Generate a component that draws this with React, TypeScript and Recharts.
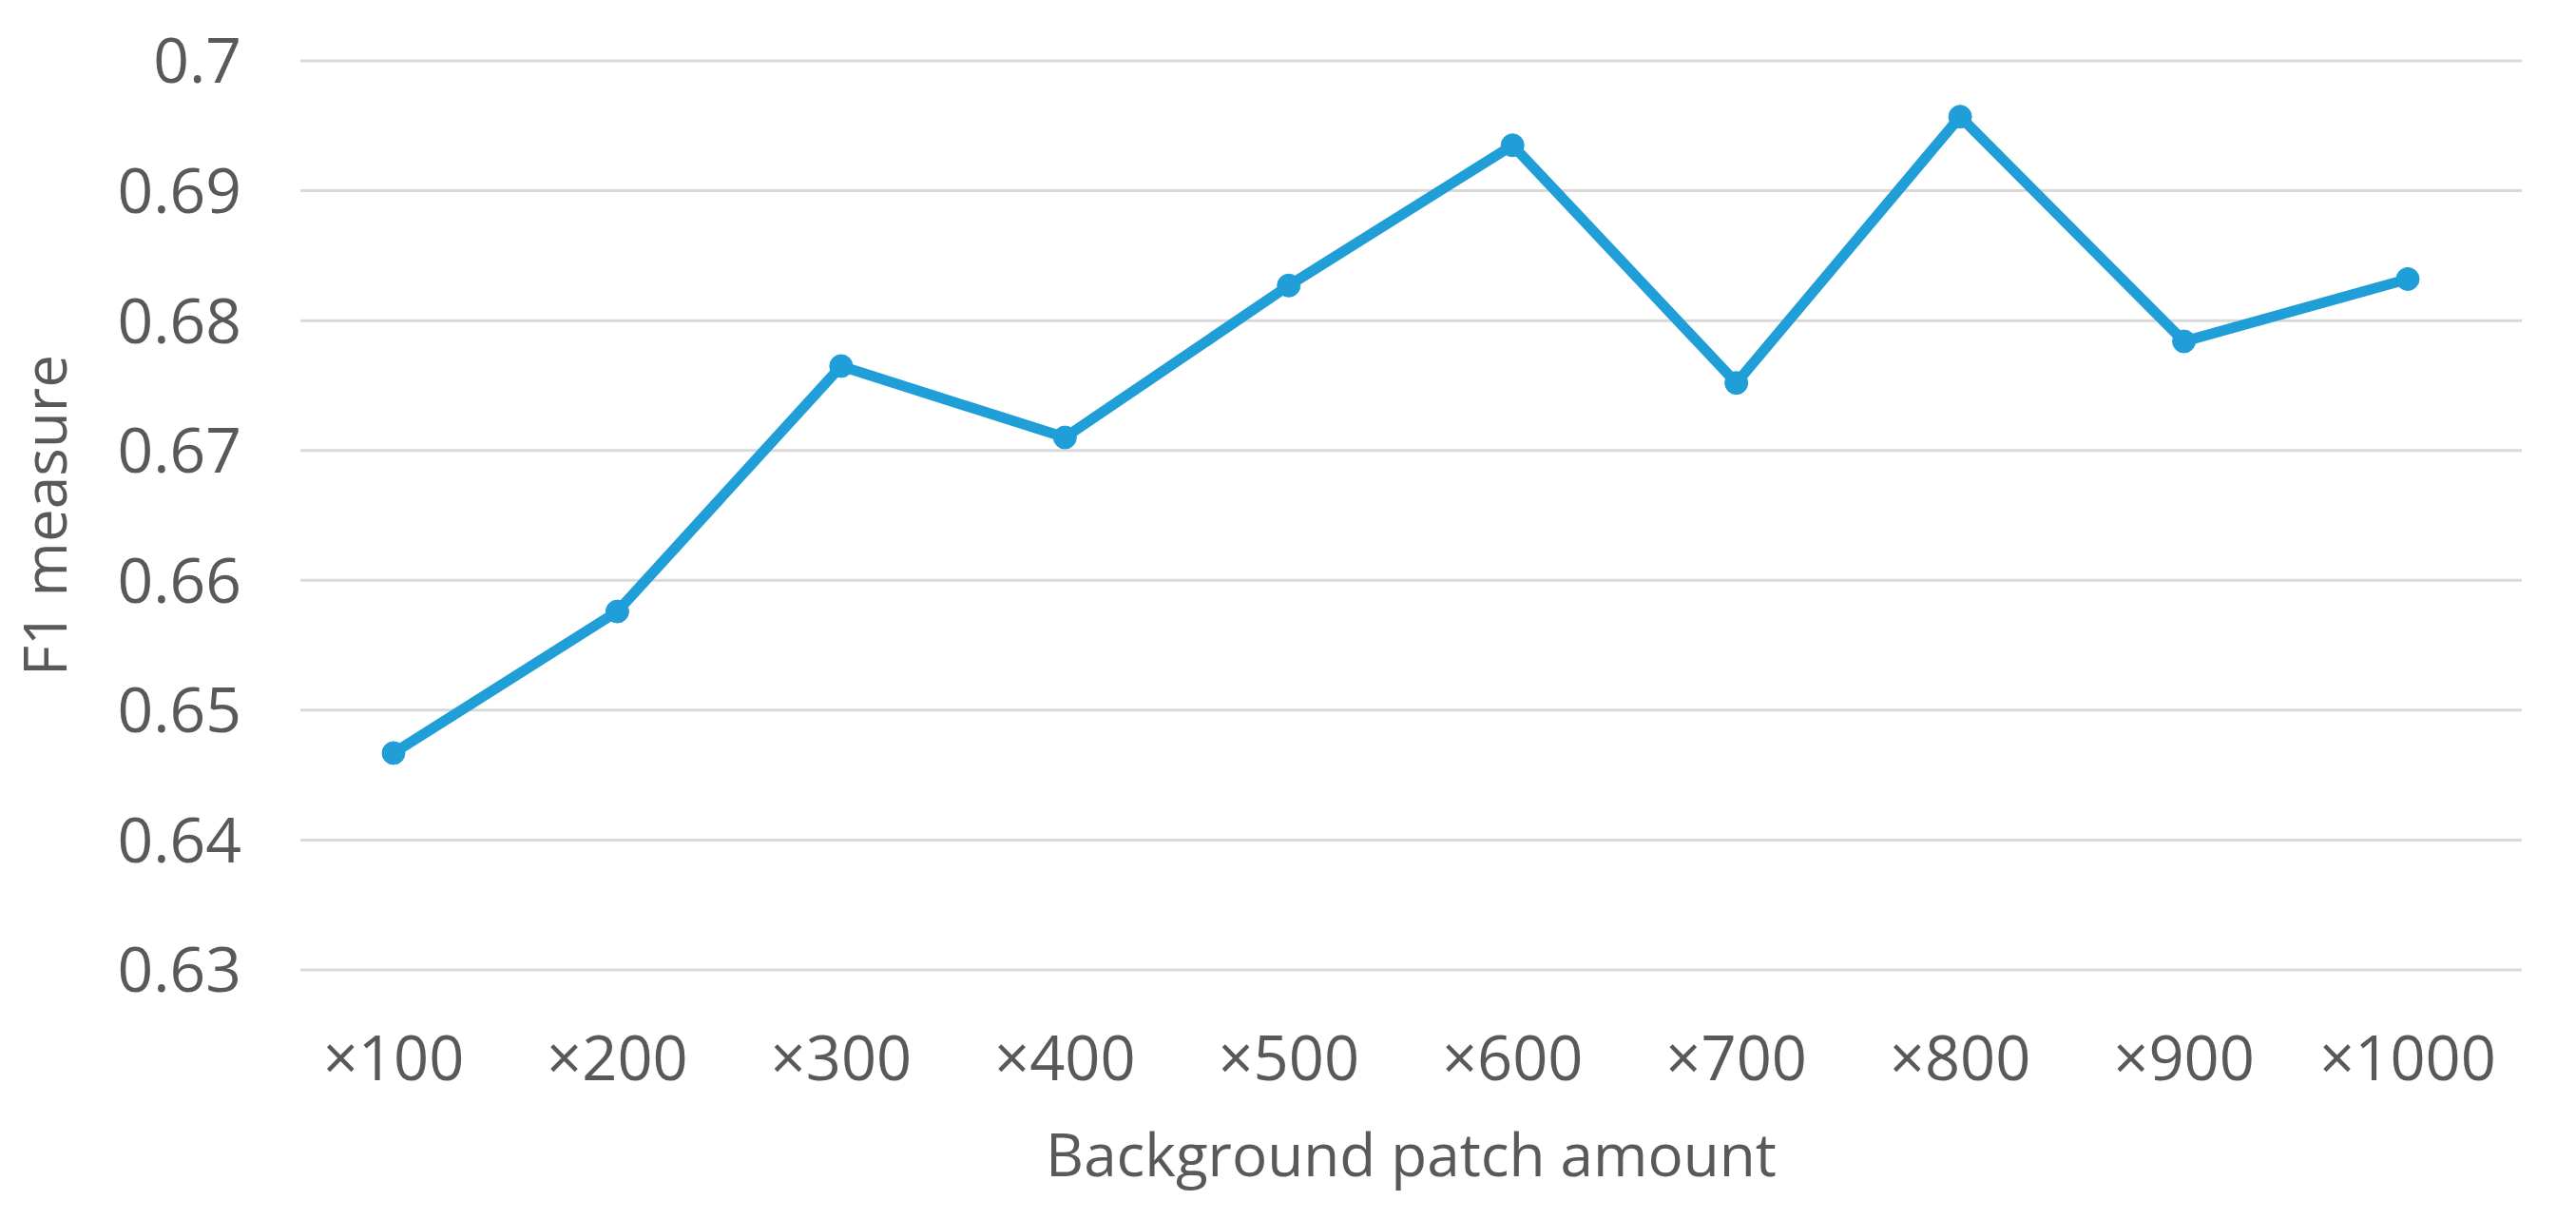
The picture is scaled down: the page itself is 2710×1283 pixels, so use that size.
import React from "react";
import { CartesianGrid, Line, LineChart, XAxis, YAxis } from "recharts";

const categories = ["×100", "×200", "×300", "×400", "×500", "×600", "×700", "×800", "×900", "×1000"];
const f1Values = [0.6467, 0.6576, 0.6765, 0.671, 0.6827, 0.6935, 0.6752, 0.6957, 0.6784, 0.6832];
const yTicks = [0.63, 0.64, 0.65, 0.66, 0.67, 0.68, 0.69, 0.7];

const data = categories.map((name, i) => ({ name, f1: f1Values[i] }));

const FONT = "'Open Sans', 'Noto Sans', sans-serif";
const TEXT = "#595959";
const BLUE = "#1f9ed8";

const YTitle = (props: any) => {
	const vb = props.viewBox || {};
	const cy = vb.y + vb.height / 2;
	return (
		<text
			x={70}
			y={cy}
			transform={`rotate(-90 70 ${cy})`}
			textAnchor="middle"
			fontFamily={FONT}
			fontSize={62}
			fill={TEXT}
		>
			F1 measure
		</text>
	);
};

export default function App() {
	return (
		<div style={{ position: "absolute", left: 0, top: 0, background: "#fff" }}>
			<LineChart
				width={2710}
				height={1283}
				data={data}
				margin={{ top: 64, right: 57, left: 0, bottom: 0 }}
			>
				<CartesianGrid vertical={false} stroke="#d9d9d9" strokeWidth={3} />
				<XAxis
					dataKey="name"
					axisLine={false}
					tickLine={false}
					tickSize={0}
					tickMargin={70}
					height={263}
					padding={{ left: 98, right: 120 }}
					interval={0}
					tick={{ fontFamily: FONT, fontSize: 65, fill: TEXT }}
					label={{
						value: "Background patch amount",
						position: "insideBottom",
						offset: 46,
						fontFamily: FONT,
						fontSize: 62,
						fill: TEXT,
					}}
				/>
				<YAxis
					domain={[0.63, 0.7]}
					ticks={yTicks}
					interval={0}
					axisLine={false}
					tickLine={false}
					tickSize={0}
					tickMargin={62}
					width={316}
					tickFormatter={(v: number) => String(+v.toFixed(2))}
					tick={{ fontFamily: FONT, fontSize: 66, fill: TEXT }}
					label={{ content: YTitle }}
				/>
				<Line
					type="linear"
					dataKey="f1"
					stroke={BLUE}
					strokeWidth={11}
					dot={{ r: 12, fill: BLUE, stroke: BLUE, strokeWidth: 1 }}
					activeDot={false}
					isAnimationActive={false}
				/>
			</LineChart>
		</div>
	);
}
